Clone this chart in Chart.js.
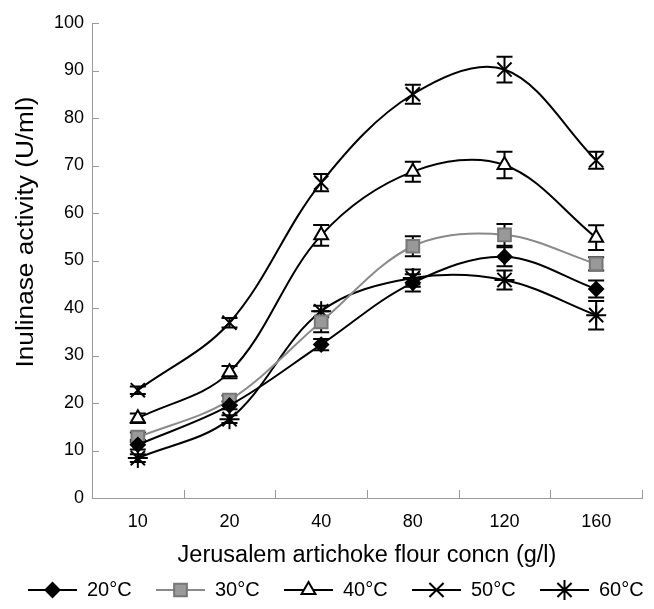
<!DOCTYPE html>
<html lang="en">

<head>
    <meta charset="UTF-8">
    <title>Inulinase activity vs flour concentration</title>
    <script src="https://cdn.jsdelivr.net/npm/chart.js@4.4.1/dist/chart.umd.min.js"></script>
    <style>
        body { margin: 0; background: #fff; }
        canvas { display: block; }
    </style>
</head>

<body>
    <canvas id="chart" width="654" height="609"></canvas>

    <script>
        // Data
        const concn = ["10", "20", "40", "80", "120", "160"];

        const act20 = [11.2, 19.5, 32.3, 45.3, 50.8, 44.0];
        const act30 = [12.8, 20.6, 37.1, 53.0, 55.4, 49.3];
        const act40 = [16.8, 26.5, 55.3, 68.7, 70.1, 54.8];
        const act50 = [22.7, 36.9, 66.4, 85.0, 90.2, 71.1];
        const act60 = [8.4, 16.6, 39.3, 46.3, 45.9, 38.5];

        // error bar half-lengths
        const err20 = [1.0, 0.8, 1.2, 1.8, 2.0, 1.8];
        const err30 = [1.0, 1.0, 2.2, 2.1, 2.3, 1.4];
        const err40 = [1.0, 1.3, 2.2, 2.1, 2.8, 2.6];
        const err50 = [0.8, 1.0, 1.8, 2.0, 2.7, 1.8];
        const err60 = [0.8, 0.8, 1.2, 1.8, 2.0, 3.0];

        const seriesLabels = ["20\u00b0C", "30\u00b0C", "40\u00b0C", "50\u00b0C", "60\u00b0C"];
        const yTitle = "Inulinase activity (U/ml)";
        const xTitle = "Jerusalem artichoke flour concn (g/l)";

        const FONT = "'Liberation Sans', Arial, sans-serif";

        function series(label, data, errs, style, radius, color, fill) {
            return {
                label: label,
                data: data,
                errors: errs,
                borderColor: color,
                borderWidth: 2,
                tension: 0.35,
                pointStyle: style,
                pointRadius: radius,
                pointBorderWidth: 2,
                pointBorderColor: color === "#000" ? "#000" : "#777",
                pointBackgroundColor: fill,
                fill: false
            };
        }

        // error bars, drawn through the scales
        const errorBars = {
            id: "errorBars",
            beforeDatasetsDraw(chart) {
                const ctx = chart.ctx;
                const y = chart.scales.y;
                ctx.save();
                ctx.strokeStyle = "#000";
                ctx.lineWidth = 2;
                chart.data.datasets.forEach((ds, i) => {
                    const meta = chart.getDatasetMeta(i);
                    meta.data.forEach((pt, j) => {
                        const e = ds.errors[j];
                        const top = y.getPixelForValue(ds.data[j] + e);
                        const bot = y.getPixelForValue(ds.data[j] - e);
                        ctx.beginPath();
                        ctx.moveTo(pt.x, top);
                        ctx.lineTo(pt.x, bot);
                        ctx.moveTo(pt.x - 8, top);
                        ctx.lineTo(pt.x + 8, top);
                        ctx.moveTo(pt.x - 8, bot);
                        ctx.lineTo(pt.x + 8, bot);
                        ctx.stroke();
                    });
                });
                ctx.restore();
            }
        };

        // tick marks pointing into the plot + the y title (sits above centre in the original)
        const axisExtras = {
            id: "axisExtras",
            afterDraw(chart) {
                const ctx = chart.ctx;
                const x = chart.scales.x;
                const y = chart.scales.y;
                ctx.save();
                ctx.strokeStyle = "#999";
                ctx.lineWidth = 1;
                ctx.beginPath();
                for (let v = 0; v <= 100; v += 10) {
                    const py = Math.round(y.getPixelForValue(v)) + 0.5;
                    ctx.moveTo(x.left, py);
                    ctx.lineTo(x.left + 7, py);
                }
                for (let i = 0; i <= concn.length; i++) {
                    const px = Math.round(x.getPixelForValue(i - 0.5)) + 0.5;
                    ctx.moveTo(px, y.bottom);
                    ctx.lineTo(px, y.bottom - 8);
                }
                ctx.stroke();

                ctx.translate(27, y.getPixelForValue(56));
                ctx.rotate(-Math.PI / 2);
                ctx.scale(1.14, 1);
                ctx.fillStyle = "#000";
                ctx.font = "23px " + FONT;
                ctx.textAlign = "center";
                ctx.textBaseline = "middle";
                ctx.fillText(yTitle, 0, 0);
                ctx.restore();
            }
        };

        // legend row along the bottom: line + marker, then the label
        const bottomLegend = {
            id: "bottomLegend",
            afterDraw(chart) {
                const ctx = chart.ctx;
                const cy = chart.height - 19;
                const start = 28, pitch = 128, lineLen = 49;
                ctx.save();
                ctx.font = "20px " + FONT;
                ctx.textBaseline = "middle";
                ctx.fillStyle = "#000";
                chart.data.datasets.forEach((ds, i) => {
                    const x0 = start + i * pitch;
                    ctx.strokeStyle = ds.borderColor;
                    ctx.lineWidth = 2;
                    ctx.beginPath();
                    ctx.moveTo(x0, cy);
                    ctx.lineTo(x0 + lineLen, cy);
                    ctx.stroke();
                    ctx.strokeStyle = ds.pointBorderColor;
                    ctx.fillStyle = ds.pointBackgroundColor;
                    Chart.helpers.drawPoint(ctx, { pointStyle: ds.pointStyle, radius: ds.pointRadius, rotation: 0, borderWidth: 2 }, x0 + lineLen / 2, cy);
                    ctx.fillStyle = "#000";
                    ctx.fillText(ds.label, x0 + lineLen + 10, cy);
                });
                ctx.restore();
            }
        };

        const datasets = [
            series(seriesLabels[0], act20, err20, "rectRot", 7, "#000", "#000"),
            series(seriesLabels[1], act30, err30, "rect", 9, "#8a8a8a", "#999"),
            series(seriesLabels[2], act40, err40, "triangle", 8, "#000", "#fff"),
            series(seriesLabels[3], act50, err50, "crossRot", 10, "#000", "#000"),
            series(seriesLabels[4], act60, err60, "star", 10, "#000", "#000")
        ];

        const ctx = document.getElementById("chart").getContext("2d");
        const chart = new Chart(ctx, {
            type: "line",
            data: {
                labels: concn,
                datasets: datasets
            },
            plugins: [errorBars, axisExtras, bottomLegend],
            options: {
                responsive: false,
                animation: false,
                devicePixelRatio: 1,
                layout: { padding: { left: 0, right: 3, top: 23, bottom: 31 } },
                plugins: {
                    tooltip: { enabled: false },
                    legend: { display: false }
                },
                scales: {
                    x: {
                        offset: true,
                        grid: { display: false },
                        border: { display: true, color: "#999", width: 1, dash: [2, 1] },
                        ticks: { color: "#000", font: { family: FONT, size: 18 }, padding: 5 },
                        title: {
                            display: true,
                            text: xTitle,
                            color: "#000",
                            font: { family: FONT, size: 23.5 },
                            padding: { top: 4, bottom: 8 }
                        },
                        afterFit(scale) { scale.height = 80; }
                    },
                    y: {
                        min: 0,
                        max: 100,
                        grid: { display: false },
                        border: { display: true, color: "#999", width: 1, dash: [2, 1] },
                        ticks: { stepSize: 10, color: "#000", font: { family: FONT, size: 18 }, padding: 0 },
                        afterFit(scale) { scale.width = 92; }
                    }
                }
            }
        });
    </script>
</body>

</html>
